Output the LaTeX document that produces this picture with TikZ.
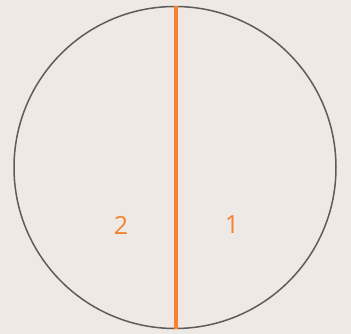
\documentclass[tikz,border=0pt]{standalone}
\usepackage{fontspec}
\setmainfont{Open Sans}
\definecolor{bgbeige}{HTML}{EEE9E5}
\definecolor{rimgray}{HTML}{5F5B58}
\definecolor{cutorange}{HTML}{F58232}
\tikzset{
  rim/.style={draw=rimgray, line width=1.5pt},
  cut/.style={draw=cutorange, line width=4pt},
  part/.style={text=cutorange, font=\fontsize{25}{30}\selectfont}
}
\begin{document}
\begin{tikzpicture}[x=1pt, y=-1pt]
  \fill[bgbeige] (0,0) rectangle (351,334);
  \useasboundingbox (0,0) rectangle (351,334);
  \coordinate (c) at (175,167.5);
  \draw[rim] (c) circle[radius=161];
  \coordinate (top) at (176,6.5);
  \coordinate (bot) at (176,328.5);
  \draw[cut] (top) -- (bot);
  \node[part] (left) at (121,225) {2};
  \node[part] (right) at (232,225) {1};
\end{tikzpicture}
\end{document}
